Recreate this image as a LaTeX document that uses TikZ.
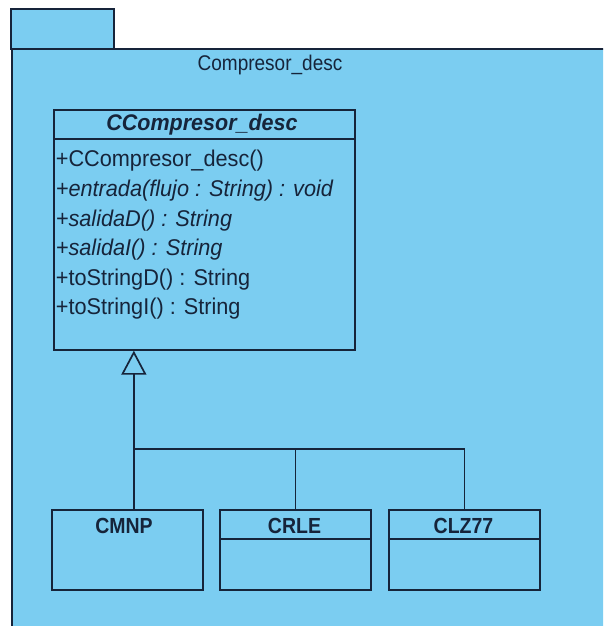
\documentclass[tikz,border=0pt]{standalone}
\usepackage{fontspec}
\setmainfont{Liberation Sans}
\usepackage{graphicx}
\usetikzlibrary{arrows.meta}
\definecolor{pkgfill}{RGB}{123,205,241}
\definecolor{ink}{RGB}{22,36,58}
\newcommand{\vst}[1]{\scalebox{1}[1.05]{#1}}
\begin{document}
\begin{tikzpicture}[x=1pt,y=-1pt,line width=1.7pt,
  pkg/.style={draw=ink,fill=pkgfill,line width=1.7pt},
  classbox/.style={draw=ink,fill=pkgfill,line width=1.7pt,rectangle,anchor=north west,inner sep=0pt},
  memb/.style={anchor=west,inner sep=0pt,text=ink,font=\fontsize{21.7}{24}\selectfont},
  cname/.style={inner sep=0pt,text=ink,font=\fontsize{19.5}{22}\bfseries\selectfont},
  conn/.style={draw=ink,line width=1.7pt}]
\useasboundingbox (0,0) rectangle (603,626);
\fill[white] (0,0) rectangle (603,626);
\begin{scope}
\clip (0,0) rectangle (603,626);
\draw[pkg] (11,9) rectangle (114,49);
\draw[pkg] (12,640) -- (12,49) -- (620,49) -- (620,640) -- cycle;
\end{scope}
\node[inner sep=0pt,text=ink,font=\fontsize{19}{22}\selectfont] (title) at (270,65) {\scalebox{1}[1.12]{Compresor\_desc}};

% main class
\node[classbox,minimum width=301pt,minimum height=240pt] (main) at (53,109) {};
\draw[conn] (main.north west) ++(0,30) coordinate (msep) -- (msep -| main.east);
\node[cname,font=\fontsize{21.5}{24}\bfseries\itshape\selectfont] (mname) at (202,125) {\vst{CCompresor\_desc}};
\node[memb] (m1) at (55,161) {\vst{+CCompresor\_desc()}};
\node[memb] (m2) at (55,190.6) {\vst{\itshape +entrada(flujo : String) : void}};
\node[memb] (m3) at (55,220.2) {\vst{\itshape +salidaD() : String}};
\node[memb] (m4) at (55,249.8) {\vst{\itshape +salidaI() : String}};
\node[memb] (m5) at (55,279.4) {\vst{+toStringD() : String}};
\node[memb] (m6) at (55,309) {\vst{+toStringI() : String}};

% subclasses
\node[classbox,minimum width=151pt,minimum height=80pt] (cmnp) at (51,509) {};
\node[classbox,minimum width=151pt,minimum height=80pt] (crle) at (219,509) {};
\node[classbox,minimum width=151pt,minimum height=80pt] (clz) at (388,509) {};
\node[cname] (cmnpname) at (124,526) {\scalebox{1}[1.12]{CMNP}};
\node[cname] (crlename) at (294.5,526) {\scalebox{1}[1.12]{CRLE}};
\node[cname] (clzname) at (463.5,526) {\scalebox{1}[1.12]{CLZ77}};
\draw[conn] (crle.north west) ++(0,30) coordinate (s2) -- (s2 -| crle.east);
\draw[conn] (clz.north west) ++(0,30) coordinate (s3) -- (s3 -| clz.east);

% generalization
\coordinate (cmnptop) at ([xshift=6.5pt]cmnp.north);
\coordinate (bus) at (133,449);
\draw[conn,-{Triangle[open,length=24pt,width=25pt,line width=1.7pt]}] (cmnptop) -- (cmnptop |- main.south);
\draw[conn] (crle.north) -- (crle.north |- bus);
\draw[conn] (clz.north) -- (clz.north |- bus) -- (bus);
\end{tikzpicture}
\end{document}
